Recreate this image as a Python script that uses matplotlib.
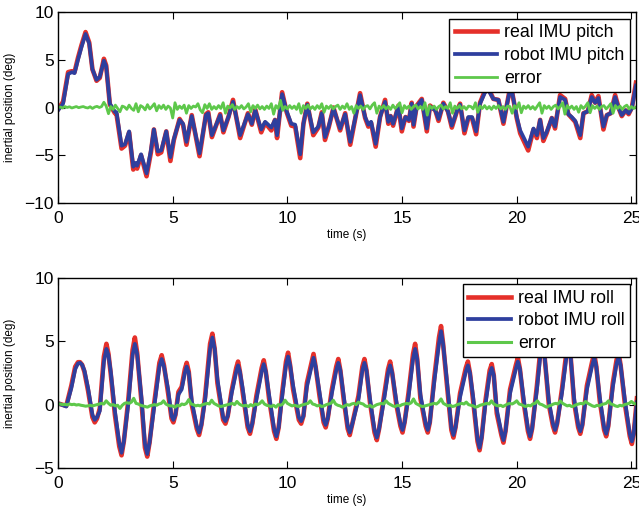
import numpy as np
import matplotlib
matplotlib.use("Agg")
import matplotlib.pyplot as plt

# ---- pitch (top panel) ----
pitch_t = [0.0, 0.22, 0.44, 0.6, 0.72, 0.87, 1.02, 1.2, 1.36, 1.5, 1.68, 1.82, 2.0, 2.1,
           2.26, 2.48, 2.55, 2.77, 2.92, 3.1, 3.28, 3.38, 3.45, 3.62, 3.86, 4.05, 4.18,
           4.35, 4.5, 4.72, 4.9, 5.05, 5.3, 5.45, 5.6, 5.83, 6.17, 6.45, 6.55, 6.71,
           7.07, 7.21, 7.43, 7.63, 7.94, 8.28, 8.45, 8.6, 8.86, 9.03, 9.3, 9.46, 9.55,
           9.77, 9.97, 10.17, 10.34, 10.56, 10.7, 10.87, 11.13, 11.35, 11.5, 11.64, 11.8,
           12.01, 12.3, 12.52, 12.74, 13.17, 13.39, 13.53, 13.65, 13.85, 14.04, 14.26,
           14.4, 14.5, 14.61, 14.84, 14.99, 15.15, 15.3, 15.42, 15.5, 15.64, 15.86, 16.08,
           16.22, 16.45, 16.59, 16.8, 17.0, 17.17, 17.39, 17.53, 17.72, 17.89, 18.05,
           18.23, 18.4, 18.62, 18.77, 18.98, 19.2, 19.42, 19.71, 19.8, 20.0, 20.15, 20.5,
           20.73, 20.88, 21.02, 21.16, 21.3, 21.53, 21.67, 21.89, 22.11, 22.25, 22.4,
           22.55, 22.77, 22.91, 23.1, 23.27, 23.42, 23.56, 23.78, 23.93, 24.1, 24.29,
           24.45, 24.58, 24.75, 24.88, 25.02, 25.2]
pitch_robot = [-0.3, 0.4, 3.5, 3.7, 3.6, 5.0, 6.3, 7.7, 6.7, 4.0, 2.9, 3.2, 4.9, 4.3,
               0.4, -0.45, -0.5, -4.0, -3.85, -2.5, -6.2, -5.8, -6.1, -4.9, -6.9, -4.5, -2.3,
               -4.6, -4.5, -2.5, -5.2, -3.3, -1.3, -1.7, -3.6, -0.9, -4.8, -0.8, -0.6, -2.9,
               -0.8, -2.4, -1.0, 0.6, -2.9, -0.7, -1.7, -0.3, -2.3, -1.5, -2.1, -1.3, -2.9,
               1.4, -0.4, -1.7, -1.8, -4.9, -1.7, 0.3, -2.6, -2.0, -0.6, -3.1, -2.0,
               -0.1, -2.2, -0.7, -3.6, 1.3, -1.0, -1.8, -1.5, -3.8, -1.0, 0.6,
               -1.5, -0.9, -1.7, 0.1, -2.2, -1.0, -1.3, 0.4, -1.8, 0.1, 0.8, -2.2,
               0.1, -0.3, -1.2, 0.4, -0.4, -1.9, -0.4, 0.3, -2.4, -1.0, -1.0,
               -2.5, 0.4, 1.6, 1.8, 0.9, 0.8, -1.5, 1.9, 1.6, -1.0, -2.4, -4.1,
               -2.2, -2.9, -1.3, -3.2, -2.6, -1.1, -2.0, 1.1, 0.8, -0.7, -1.0,
               -1.4, -2.9, -0.6, -0.4, 1.1, 0.5, 1.0, -2.0, -0.8, -0.6, 1.1,
               -0.1, -0.8, -0.3, -0.6, -0.1, 2.3]
pitch_real = [-0.2, 0.6, 3.7, 3.8, 3.7, 5.2, 6.5, 7.9, 6.8, 4.0, 2.8, 3.1, 5.1, 4.4,
              0.3, -0.6, -0.7, -4.3, -4.0, -2.6, -6.5, -6.0, -6.4, -5.0, -7.2, -4.7, -2.3,
              -4.9, -4.7, -2.5, -5.6, -3.4, -1.2, -1.8, -3.9, -0.8, -5.1, -0.7, -0.5, -3.1,
              -0.7, -2.6, -1.0, 0.8, -3.2, -0.6, -1.8, -0.2, -2.6, -1.6, -2.4, -1.3, -3.2,
              1.6, -0.5, -1.9, -2.0, -5.3, -1.7, 0.4, -2.9, -2.1, -0.5, -3.4, -2.1,
              0.0, -2.4, -0.6, -3.9, 1.5, -1.1, -2.0, -1.6, -4.1, -1.0, 0.8,
              -1.7, -0.9, -1.9, 0.2, -2.5, -1.0, -1.4, 0.5, -2.0, 0.2, 0.9, -2.5,
              0.2, -0.3, -1.4, 0.5, -0.4, -2.1, -0.4, 0.4, -2.7, -1.1, -1.1,
              -2.8, 0.5, 1.8, 2.0, 0.9, 0.8, -1.7, 2.1, 1.6, -1.1, -2.7, -4.5,
              -2.3, -3.2, -1.3, -3.5, -2.7, -1.1, -2.2, 1.3, 0.9, -0.7, -1.1,
              -1.5, -3.2, -0.6, -0.4, 1.3, 0.5, 1.2, -2.3, -0.8, -0.6, 1.3,
              -0.1, -0.9, -0.3, -0.7, 0.0, 2.6]
pitch_err = [0.0, 0.05, -0.05, 0.1, 0.0, 0.08, -0.05, 0.02, 0.1, -0.02,
             0.05, 0.1, 0.0, -0.05, 0.08, -0.1, 0.05, 0.12, 0.0, 0.1,
             0.55, 0.15, -0.65, 0.1, -0.2, 0.25, -0.1, -0.45, 0.15, 0.05,
             -0.2, 0.25, -0.1, -0.3, 0.4, -0.45, 0.2, 0.05, -0.25, 0.3,
             -0.15, 0.1, 0.4, -0.35, 0.2, -0.1, 0.25, -0.2, 0.15, -0.05,
             -1.1, 0.5, -0.2, 0.15, -0.1, 0.25, -0.6, 0.2, -0.1, 0.15,
             0.05, 0.4, -0.25, -0.55, 0.3, -0.1, 0.4, -0.2, 0.1, -0.15,
             0.2, -0.1, 0.5, -0.6, 0.15, -0.05, 0.3, -0.2, 0.1, -0.1,
             0.2, -0.15, 0.05, 0.4, -0.45, 0.2, -0.1, 0.25, -0.15, 0.1,
             -0.2, 0.15, -0.1, 0.4, -0.7, 0.2, -0.1, 0.75, -0.3, 0.1,
             -0.15, 0.2, -0.1, 0.15, -0.2, 0.4, -0.6, 0.2, -0.1, 0.25,
             -0.15, 0.1, -0.2, 0.2, -0.1, 0.4, -0.5, 0.15, -0.1, 0.2,
             -0.15, 0.1, 0.25, -0.2, 0.15, -0.1, 0.4, -0.2, 0.1, -0.6,
             0.2, -0.1, 0.15, -0.2, 0.1, 0.2, -0.15, 0.25, 0.5, -0.6,
             0.15, -0.1, 0.2, -0.15, 0.1, -0.2, 0.25, -0.1, 0.15, 0.5,
             -0.55, 0.2, -0.1, 0.15, -0.2, 0.1, 0.25, -0.15, 0.1, -0.2,
             0.5, -0.8, 0.2, -0.1, 0.15, -0.2, 0.1, 0.25, -0.15, 0.1,
             -0.1, 0.5, -0.6, 0.15, -0.1, 0.2, -0.15, 0.1, -0.2, 0.15,
             0.1, -0.15, 0.5, -0.5, 0.15, -0.1, 0.2, -0.15, 0.1, -0.2,
             0.15, -0.1, 0.2, -0.15, 0.1, -0.2, 0.15, 0.1, -0.6, 0.2,
             -0.1, 0.5, -0.55, 0.15, -0.1, 0.2, -0.15, 0.1, -0.2, 0.15,
             0.5, -0.6, 0.2, -0.1, 0.15, -0.2, 0.1, 0.25, -0.15, 0.1,
             0.5, -0.7, 0.2, -0.1, 0.15, -0.2, 0.1, -0.5, 0.2, -0.1,
             0.15, 0.5, -0.55, 0.2, -0.1, 0.15, -0.2, 0.1, 0.2, -0.15,
             0.1, 0.4, -0.6, 0.2, -0.1, 0.15, -0.2, 0.1, 0.25, -0.15,
             0.1, -0.1, 0.05]

# ---- roll (bottom panel), one line per half cycle ----
roll_t = [0.0, 0.36, 0.58, 0.75, 0.87, 0.96, 1.05, 1.15, 1.31,
          1.5, 1.6, 1.7, 1.82,
          2.0, 2.11, 2.2, 2.3, 2.48,
          2.67, 2.77, 2.87, 3.06,
          3.25, 3.35, 3.45, 3.64,
          3.79, 3.89, 3.99, 4.15,
          4.42, 4.52, 4.62, 4.8,
          4.95, 5.03, 5.12, 5.25, 5.39,
          5.53, 5.61, 5.7, 5.83,
          6.05, 6.15, 6.25, 6.41,
          6.63, 6.73, 6.83, 6.95,
          7.2, 7.3, 7.4, 7.57,
          7.77, 7.85, 7.93, 8.05,
          8.27, 8.37, 8.47, 8.65,
          8.88, 8.97, 9.06, 9.2,
          9.42, 9.52, 9.62, 9.77,
          9.94, 10.03, 10.12, 10.25,
          10.5, 10.6, 10.7, 10.85,
          11.05, 11.14, 11.23, 11.4,
          11.58, 11.67, 11.76, 11.94,
          12.13, 12.22, 12.31, 12.45,
          12.63, 12.72, 12.82, 13.1,
          13.27, 13.36, 13.45, 13.6,
          13.8, 13.9, 14.0, 14.19,
          14.39, 14.48, 14.57, 14.75,
          14.93, 15.02, 15.11, 15.28,
          15.48, 15.57, 15.66, 15.8,
          16.03, 16.12, 16.21, 16.41,
          16.61, 16.7, 16.79, 16.95,
          17.15, 17.24, 17.33, 17.53,
          17.78, 17.87, 17.96, 18.1,
          18.29, 18.38, 18.47, 18.62,
          18.82, 18.91, 19.0, 19.13,
          19.33, 19.42, 19.51, 19.71,
          19.96, 20.05, 20.14, 20.3,
          20.49, 20.58, 20.67, 20.88,
          21.03, 21.12, 21.21, 21.4,
          21.58, 21.67, 21.76, 21.97,
          22.17, 22.26, 22.35, 22.5,
          22.68, 22.77, 22.86, 23.06,
          23.29, 23.38, 23.47, 23.62,
          23.81, 23.9, 23.99, 24.19,
          24.35, 24.44, 24.53, 24.72,
          24.93, 25.02, 25.1, 25.24]
roll_robot = [0.1, -0.15, 1.3, 2.8, 3.25, 3.3, 3.15, 2.7, 1.3,
              -0.8, -1.2, -1.0, -0.5,
              3.4, 4.4, 3.9, 2.6, -0.5,
              -3.0, -3.8, -2.9, 0.0,
              3.9, 4.8, 4.0, 0.5,
              -3.1, -3.9, -3.0, -0.8,
              3.0, 3.6, 3.0, 1.2,
              -0.9, -1.2, -0.8, 0.8, 1.2,
              2.5, 3.0, 2.5, 0.3,
              -1.7, -2.2, -1.6, 0.3,
              4.4, 5.3, 4.4, 2.0,
              -1.0, -1.3, -0.9, 0.9,
              2.6, 3.1, 2.6, 1.3,
              -1.6, -2.1, -1.5, 0.4,
              2.6, 3.2, 2.6, 0.8,
              -1.9, -2.5, -1.8, 0.6,
              3.1, 3.8, 3.1, 1.5,
              -1.0, -1.3, -0.9, 1.4,
              3.0, 3.7, 3.0, 1.0,
              -1.2, -1.6, -1.1, 0.9,
              2.7, 3.3, 2.7, 0.8,
              -1.7, -2.2, -1.6, 0.4,
              2.7, 3.3, 2.7, 0.5,
              -2.0, -2.6, -1.9, 0.1,
              2.5, 3.1, 2.5, 0.3,
              -1.5, -2.0, -1.4, 0.6,
              3.6, 4.4, 3.6, 0.8,
              -1.5, -2.0, -1.4, 1.9,
              4.8, 5.8, 4.8, 2.0,
              -1.8, -2.4, -1.8, 0.6,
              2.6, 3.1, 2.5, 0.6,
              -2.7, -3.4, -2.6, -0.2,
              2.4, 2.9, 2.3, -0.4,
              -2.2, -2.8, -2.1, 0.9,
              2.8, 3.4, 2.8, 0.5,
              -1.9, -2.5, -1.9, 1.2,
              3.9, 4.7, 3.9, 0.3,
              -1.5, -2.0, -1.5, 0.9,
              3.8, 4.6, 3.8, 0.5,
              -1.6, -2.1, -1.6, 1.2,
              3.1, 3.7, 3.0, 0.6,
              -1.8, -2.3, -1.7, 1.4,
              3.2, 3.8, 3.1, 0.3,
              -2.3, -2.9, -2.3, 0.2]
roll_real = [0.1, -0.1, 1.5, 3.0, 3.35, 3.35, 3.15, 2.6, 1.1,
             -1.0, -1.4, -1.1, -0.3,
             3.8, 4.8, 4.0, 2.4, -0.8,
             -3.3, -4.0, -2.9, 0.3,
             4.3, 5.3, 4.1, 0.2,
             -3.4, -4.1, -3.0, -0.5,
             3.3, 3.9, 3.1, 0.9,
             -1.1, -1.4, -0.8, 1.0, 1.4,
             2.8, 3.3, 2.6, 0.0,
             -1.9, -2.4, -1.6, 0.6,
             4.8, 5.6, 4.4, 1.7,
             -1.2, -1.5, -0.9, 1.1,
             2.9, 3.4, 2.6, 1.0,
             -1.8, -2.3, -1.5, 0.7,
             2.9, 3.5, 2.6, 0.5,
             -2.1, -2.7, -1.8, 0.9,
             3.4, 4.1, 3.1, 1.2,
             -1.2, -1.5, -0.9, 1.7,
             3.3, 4.0, 3.0, 0.7,
             -1.4, -1.8, -1.1, 1.2,
             3.0, 3.6, 2.7, 0.5,
             -1.9, -2.4, -1.6, 0.7,
             3.0, 3.6, 2.7, 0.2,
             -2.2, -2.8, -1.9, 0.4,
             2.8, 3.4, 2.5, 0.0,
             -1.7, -2.2, -1.4, 0.9,
             4.0, 4.8, 3.6, 0.5,
             -1.7, -2.2, -1.4, 2.2,
             5.3, 6.2, 4.8, 1.7,
             -2.0, -2.6, -1.8, 0.9,
             2.9, 3.4, 2.5, 0.3,
             -2.9, -3.6, -2.6, 0.1,
             2.7, 3.2, 2.3, -0.7,
             -2.4, -3.0, -2.1, 1.2,
             3.1, 3.7, 2.8, 0.2,
             -2.1, -2.7, -1.9, 1.5,
             4.3, 5.0, 3.9, 0.0,
             -1.7, -2.2, -1.5, 1.2,
             4.2, 4.9, 3.8, 0.2,
             -1.8, -2.3, -1.6, 1.5,
             3.4, 4.0, 3.0, 0.3,
             -2.0, -2.5, -1.7, 1.7,
             3.5, 4.1, 3.1, 0.0,
             -2.5, -3.1, -2.3, 0.5]
roll_err = [0.05, 0.05, 0.0, 0.02, -0.02, 0.05, 0.0, 0.03, -0.03, 0.0,
            -0.05, -0.08, -0.12, -0.1, -0.05, -0.1, -0.05, 0.0, 0.05, 0.1,
            0.05, 0.3, 0.1, -0.05, 0.0, -0.1, -0.05, -0.3, -0.05, 0.1,
            0.15, 0.1, 0.2, 0.5, 0.1, 0.05, -0.05, -0.1, -0.15, -0.2,
            -0.1, -0.05, 0.0, -0.05, 0.05, 0.1, 0.3, 0.05, -0.05, -0.1,
            -0.1, -0.2, -0.05, -0.1, 0.05, 0.0, 0.1, 0.4, 0.05, 0.0,
            -0.1, -0.05, -0.1, 0.0, 0.05, 0.1, 0.05, 0.35, 0.1, 0.0,
            -0.1, -0.15, -0.1, -0.05, 0.0, 0.05, 0.1, 0.0, 0.25, 0.05,
            -0.05, -0.1, -0.05, -0.15, 0.0, -0.1, 0.05, 0.0, 0.1, 0.3,
            0.05, -0.05, -0.1, -0.15, -0.05, -0.2, 0.0, -0.05, 0.05, 0.35,
            0.1, 0.0, -0.1, -0.05, -0.1, -0.15, -0.05, 0.0, 0.05, 0.1,
            0.3, 0.05, 0.0, -0.1, -0.05, -0.15, -0.1, 0.0, 0.05, 0.1,
            0.35, 0.05, -0.05, -0.1, -0.2, -0.1, 0.0, -0.05, 0.05, 0.1,
            0.0, 0.2, 0.1, 0.05, -0.1, -0.15, -0.05, -0.2, -0.1, 0.0,
            0.05, 0.1, 0.05, 0.3, 0.1, 0.0, -0.1, -0.15, -0.05, -0.1,
            0.0, 0.05, 0.1, 0.05, 0.15, 0.45, 0.1, 0.0, -0.1, -0.15,
            -0.1, -0.05, 0.0, 0.05, 0.1, 0.05, 0.2, 0.45, 0.1, 0.0,
            -0.1, -0.05, -0.15, -0.1, 0.0, 0.05, 0.1, 0.05, 0.2, 0.0,
            -0.05, -0.1, -0.2, -0.15, -0.05, 0.0, 0.05, 0.1, 0.05, 0.3,
            0.05, -0.05, -0.1, -0.05, -0.15, -0.05, 0.05, 0.1, 0.05, 0.15,
            0.3, 0.05, 0.0, -0.1, -0.15, -0.05, -0.1, 0.05, 0.1, 0.3,
            0.05, 0.0, -0.1, -0.2, -0.1, -0.05, 0.05, 0.1, 0.05, 0.3,
            0.1, 0.0, -0.1, -0.05, -0.15, -0.1, 0.0, 0.05, 0.1, 0.05,
            0.25, 0.1, 0.0, -0.1, -0.15, -0.05, -0.1, 0.0, 0.05, 0.1,
            0.3, 0.05, 0.0, -0.1, -0.15, -0.05, -0.1, 0.0, 0.05, 0.1,
            0.25, 0.1, 0.05]

# sample times of the error traces (10 Hz)
pitch_err_t = np.arange(len(pitch_err)) * 0.1
roll_err_t = np.arange(len(roll_err)) * 0.1

x_ticks = [0, 5, 10, 15, 20, 25]
RED = '#e5302a'
BLUE = '#2e3f9e'
GREEN = '#5ec84b'

plt.rcParams['font.family'] = ['Liberation Sans', 'DejaVu Sans']

fig = plt.figure(figsize=(6.39, 5.09), dpi=100)
ax1 = fig.add_axes([0.0908, 0.6012, 0.9045, 0.3752])
ax2 = fig.add_axes([0.0908, 0.0806, 0.9045, 0.3733])


def style_axes(ax, ylim, yticks):
    ax.set_xlim(0, 25.2)
    ax.set_ylim(*ylim)
    ax.set_xticks(x_ticks)
    ax.set_yticks(yticks)
    ax.tick_params(direction='in', top=True, right=True, length=5, width=0.8,
                   labelsize=12.5, colors='black')
    ax.tick_params(axis='x', pad=6)
    ax.tick_params(axis='y', pad=3)
    for s in ax.spines.values():
        s.set_linewidth(1.0)
    ax.set_xlabel('time (s)', fontsize=8.5)
    ax.xaxis.set_label_coords(0.5, -0.135)
    ax.set_ylabel('inertial position (deg)', fontsize=8.5)
    ax.yaxis.set_label_coords(-0.072, 0.5)
    # MATLAB style minus sign
    ax.set_yticklabels(['\u2212%d' % -v if v < 0 else '%d' % v for v in yticks])


def add_legend(ax, y_anchor):
    leg = ax.legend(loc='upper right', bbox_to_anchor=(0.9896, y_anchor), fontsize=12.8,
                    frameon=True, fancybox=False, framealpha=1, edgecolor='black',
                    handlelength=2.4, handletextpad=0.4, borderpad=0.3,
                    labelspacing=0.32, borderaxespad=0)
    leg.get_frame().set_linewidth(1.0)


# top: pitch
ax1.plot(pitch_t, pitch_real, color=RED, lw=3.3, label='real IMU pitch',
         solid_joinstyle='round')
ax1.plot(pitch_t, pitch_robot, color=BLUE, lw=2.7, label='robot IMU pitch',
         solid_joinstyle='round')
ax1.plot(pitch_err_t, pitch_err, color=GREEN, lw=2.0, label='error')
style_axes(ax1, (-10, 10), [-10, -5, 0, 5, 10])
add_legend(ax1, 0.963)

# bottom: roll
ax2.plot(roll_t, roll_real, color=RED, lw=3.3, label='real IMU roll',
         solid_joinstyle='round')
ax2.plot(roll_t, roll_robot, color=BLUE, lw=2.7, label='robot IMU roll',
         solid_joinstyle='round')
ax2.plot(roll_err_t, roll_err, color=GREEN, lw=2.2, label='error')
style_axes(ax2, (-5, 10), [-5, 0, 5, 10])
add_legend(ax2, 0.966)

fig.savefig('out.png', dpi=100)
plt.close(fig)
